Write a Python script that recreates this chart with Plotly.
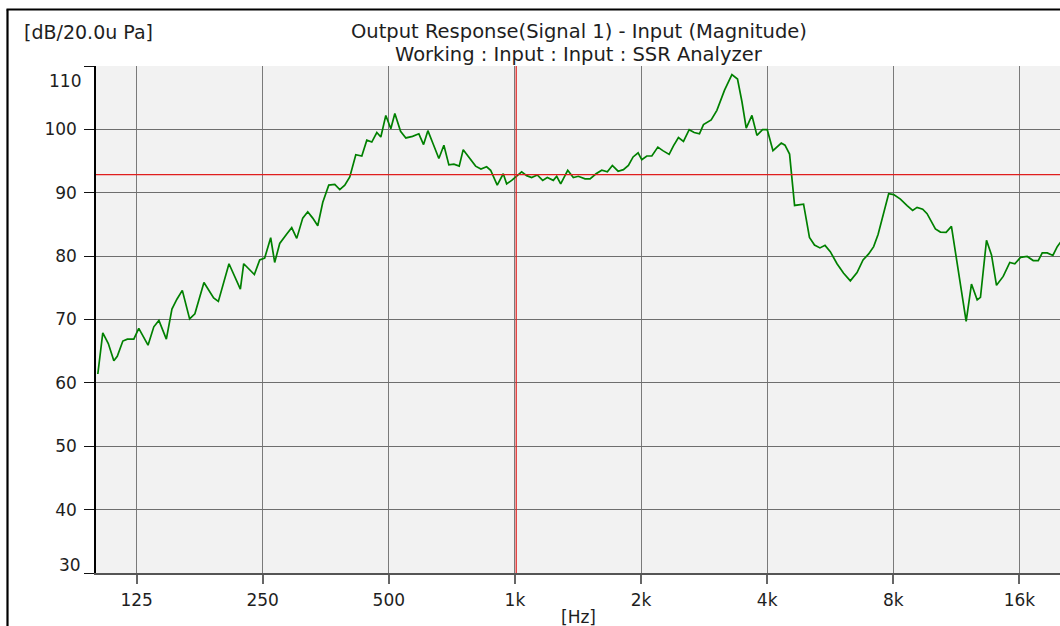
import math
import plotly.graph_objects as go

# ---- data ----
freq_hz = [101.0, 103.8, 107.0, 110.3, 112.4, 115.9, 118.8, 123.1, 126.5, 133.1,
           137.4, 141.3, 147.2, 151.8, 156.0, 160.7, 167.3, 172.2, 181.0, 190.9,
           195.9, 207.7, 221.1, 225.2, 238.8, 245.9, 252.7, 261.2, 267.0, 274.5,
           285.3, 293.2, 301.4, 311.5, 320.2, 329.1, 338.3, 347.8, 359.4, 371.5,
           381.8, 392.5, 403.4, 417.0, 431.0, 443.0, 455.3, 468.1, 478.5, 491.8,
           505.5, 516.8, 533.3, 549.1, 569.6, 589.7, 605.2, 619.7, 638.0, 658.3,
           676.7, 695.5, 715.0, 736.1, 752.5, 780.7, 805.6, 829.5, 855.9, 875.0,
           907.3, 937.8, 955.5, 982.2, 1009.5, 1037.6, 1066.5, 1096.2, 1130.6, 1164.7,
           1194.6, 1234.7, 1258.0, 1285.9, 1336.5, 1378.4, 1416.8, 1470.0, 1511.0, 1561.7,
           1611.5, 1662.0, 1708.3, 1762.8, 1815.0, 1865.5, 1914.5, 1967.9, 2008.3, 2064.4,
           2122.0, 2193.2, 2254.4, 2333.9, 2389.8, 2456.4, 2524.9, 2605.5, 2678.2, 2757.1,
           2818.6, 2940.3, 3034.2, 3164.5, 3295.3, 3398.3, 3481.5, 3564.9, 3678.6, 3781.2,
           3899.7, 4001.8, 4129.3, 4221.2, 4322.2, 4411.2, 4524.0, 4650.2, 4772.0, 4886.0,
           5047.0, 5188.0, 5347.0, 5497.0, 5659.0, 5872.0, 6089.0, 6318.0, 6555.0, 6775.0,
           6987.0, 7182.0, 7358.0, 7588.0, 7800.0, 8018.0, 8319.0, 8631.0, 8898.0, 9117.0,
           9403.0, 9633.0, 10083.0, 10364.0, 10695.0, 11013.0, 11941.0, 12294.0, 12686.0, 12918.0,
           13353.0, 13725.0, 14108.0, 14637.0, 15177.0, 15601.0, 16099.0, 16703.0, 17264.0, 17746.0,
           18140.0, 18646.0, 19230.0, 19700.0, 20060.0]

level_db = [61.4, 67.9, 66.2, 63.5, 64.2, 66.6, 66.9, 66.9, 68.6, 65.95,
            68.85, 69.85, 66.9, 71.65, 73.2, 74.6, 70.1, 70.9, 75.85, 73.4,
            72.85, 78.8, 74.8, 78.8, 77.1, 79.4, 79.7, 82.9, 79.0, 82.0,
            83.5, 84.5, 82.8, 86.0, 87.0, 86.0, 84.8, 88.5, 91.2, 91.3,
            90.5, 91.2, 92.5, 96.0, 95.8, 98.3, 98.0, 99.5, 98.8, 102.2,
            100.1, 102.5, 99.7, 98.65, 98.9, 99.3, 97.6, 99.8, 97.7, 95.4,
            97.5, 94.4, 94.5, 94.2, 96.8, 95.4, 94.2, 93.75, 94.1, 93.55,
            91.2, 93.0, 91.4, 91.95, 92.7, 93.3, 92.7, 92.4, 92.8, 91.95,
            92.4, 91.95, 92.6, 91.4, 93.55, 92.4, 92.6, 92.2, 92.2, 93.0,
            93.55, 93.3, 94.3, 93.4, 93.65, 94.3, 95.65, 96.3, 95.2, 95.8,
            95.8, 97.2, 96.65, 96.05, 97.4, 98.7, 98.1, 99.95, 99.5, 99.3,
            100.75, 101.5, 103.0, 106.2, 108.65, 107.95, 104.4, 100.2, 102.2, 99.05,
            99.95, 99.95, 96.65, 97.2, 97.85, 97.5, 96.1, 88.0, 88.1, 88.2,
            82.95, 81.75, 81.3, 81.7, 80.7, 78.8, 77.3, 76.1, 77.4, 79.4,
            80.35, 81.5, 83.4, 86.8, 89.85, 89.7, 89.0, 87.96, 87.2, 87.7,
            87.4, 86.7, 84.3, 83.8, 83.75, 84.7, 69.7, 75.6, 73.1, 73.5,
            82.5, 80.2, 75.4, 76.8, 79.0, 78.8, 79.8, 79.95, 79.3, 79.3,
            80.5, 80.5, 80.1, 81.5, 82.2]

x_tick_vals = [125, 250, 500, 1000, 2000, 4000, 8000, 16000]
x_tick_text = ["125", "250", "500", "1k", "2k", "4k", "8k", "16k"]
y_tick_vals = [30, 40, 50, 60, 70, 80, 90, 100, 110]
y_tick_text = ["", "40", "50", "60", "70", "80", "90", "100", ""]

cursor_freq = 1007.0
cursor_level = 92.85

x_min, x_max = 100, 20000
y_min, y_max = 30, 110

title_line1 = "Output Response(Signal 1) - Input (Magnitude)"
title_line2 = "Working : Input : Input : SSR Analyzer"
y_unit = "[dB/20.0u Pa]"
x_unit = "[Hz]"

# ---- figure ----
W, H = 1060, 626
ML, MR, MT, MB = 96, 0, 66, 53
PW = W - ML - MR
PH = H - MT - MB


def px(xp):
    return (xp - ML) / PW


def py(yp):
    return (H - MB - yp) / PH


FONT = "DejaVu Sans"
TXT = "#1e1e1e"
TICK_SIZE = 17

fig = go.Figure()
fig.add_trace(go.Scatter(
    x=freq_hz, y=level_db, mode="lines",
    line=dict(color="#008000", width=1.7),
    hoverinfo="x+y", showlegend=False, cliponaxis=True,
))

fig.update_layout(
    width=W, height=H,
    margin=dict(l=ML, r=MR, t=MT, b=MB, pad=0),
    paper_bgcolor="white",
    plot_bgcolor="#f2f2f2",
    font=dict(family=FONT, size=TICK_SIZE, color=TXT),
    showlegend=False,
    xaxis=dict(
        type="log",
        range=[math.log10(x_min), math.log10(x_max)],
        tickvals=x_tick_vals, ticktext=x_tick_text,
        showgrid=True, gridcolor="#7a7a7a", gridwidth=1,
        ticks="outside", ticklen=9, tickwidth=1.5, tickcolor="#666666",
        ticklabelstandoff=2,
        showline=True, linecolor="#555555", linewidth=1.6,
        zeroline=False, fixedrange=True,
        tickfont=dict(family=FONT, size=TICK_SIZE, color=TXT),
    ),
    yaxis=dict(
        range=[y_min, y_max],
        tickvals=y_tick_vals, ticktext=y_tick_text,
        showgrid=True, gridcolor="#6e6e6e", gridwidth=1,
        ticks="outside", ticklen=10, tickwidth=1.2, tickcolor="#111111",
        ticklabelstandoff=4,
        showline=True, linecolor="#000000", linewidth=1.5,
        zeroline=False, fixedrange=True,
        tickfont=dict(family=FONT, size=TICK_SIZE, color=TXT),
    ),
    shapes=[
        # cursor lines
        dict(type="line", xref="x", yref="paper", x0=cursor_freq, x1=cursor_freq,
             y0=0, y1=1, line=dict(color="#e01e1e", width=1.2), layer="above"),
        dict(type="line", xref="paper", yref="y", x0=0, x1=1,
             y0=cursor_level, y1=cursor_level, line=dict(color="#e01e1e", width=1.2),
             layer="above"),
        # outer frame
        dict(type="line", xref="paper", yref="paper", x0=px(7.5), x1=px(7.5),
             y0=py(9.5), y1=py(640), line=dict(color="#000000", width=2.2)),
        dict(type="line", xref="paper", yref="paper", x0=px(6.5), x1=px(1075),
             y0=py(9.5), y1=py(9.5), line=dict(color="#000000", width=2.2)),
    ],
    annotations=[
        dict(text=title_line1, xref="paper", yref="paper", x=px(579), y=py(31),
             xanchor="center", yanchor="middle", showarrow=False,
             font=dict(family=FONT, size=19.5, color=TXT)),
        dict(text=title_line2, xref="paper", yref="paper", x=px(579), y=py(55),
             xanchor="center", yanchor="middle", showarrow=False,
             font=dict(family=FONT, size=19.5, color=TXT)),
        dict(text=y_unit, xref="paper", yref="paper", x=px(22), y=py(32),
             xanchor="left", yanchor="middle", showarrow=False,
             font=dict(family=FONT, size=19, color=TXT)),
        dict(text=x_unit, xref="paper", yref="paper", x=px(578), y=py(617),
             xanchor="center", yanchor="middle", showarrow=False,
             font=dict(family=FONT, size=TICK_SIZE, color=TXT)),
        dict(text="110", xref="paper", yref="paper", x=px(83), y=py(81),
             xanchor="right", yanchor="middle", showarrow=False,
             font=dict(family=FONT, size=TICK_SIZE, color=TXT)),
        dict(text="30", xref="paper", yref="paper", x=px(83), y=py(565),
             xanchor="right", yanchor="middle", showarrow=False,
             font=dict(family=FONT, size=TICK_SIZE, color=TXT)),
    ],
)

fig.write_html(
    "out.html",
    config={"displayModeBar": False},
    post_script="document.body.style.margin='0';document.body.style.overflow='hidden';",
)
